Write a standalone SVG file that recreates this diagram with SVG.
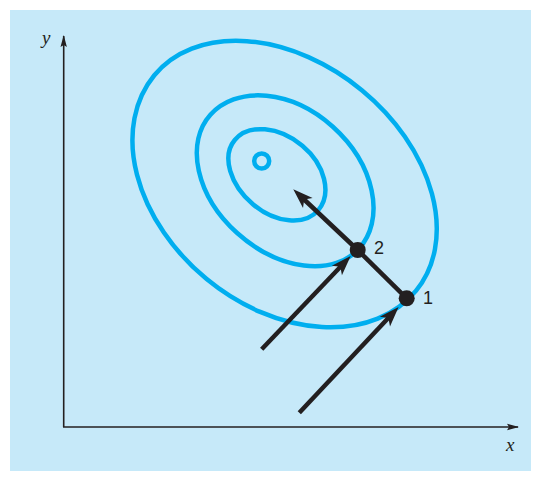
<svg xmlns="http://www.w3.org/2000/svg" width="541" height="481" viewBox="0 0 541 481">
  <style>
    .bg { fill: #c6e9f9; }
    .axis { stroke: #231f20; stroke-width: 1.6; fill: none; }
    .contour { stroke: #00aeef; stroke-width: 4.5; fill: none; }
    .step { stroke: #231f20; stroke-width: 4.5; fill: none; stroke-linecap: butt; }
    .dot { fill: #231f20; }
    .axlabel { font-family: "Liberation Serif", "Times New Roman", serif; font-style: italic; font-size: 19px; fill: #231f20; }
    .numlabel { font-family: "Liberation Sans", Arial, sans-serif; font-size: 18px; fill: #231f20; }
  </style>
  <defs>
    <marker id="axhead" markerUnits="userSpaceOnUse" viewBox="-12 -4 14 8" markerWidth="14" markerHeight="8" refX="0" refY="0" orient="auto">
      <path d="M1,0 L-11,-3.2 L-9,0 L-11,3.2 Z" fill="#231f20"/>
    </marker>
    <marker id="stephead" markerUnits="userSpaceOnUse" viewBox="-10 -8 24 16" markerWidth="24" markerHeight="16" refX="0" refY="0" orient="auto">
      <path d="M12,0 L-8,-7 L-3,0 L-8,7 Z" fill="#231f20"/>
    </marker>
  </defs>

  <rect class="bg" x="10" y="10" width="521" height="461"/>

  <g id="axes">
    <line class="axis" x1="63.7" y1="427" x2="63.7" y2="36" marker-end="url(#axhead)"/>
    <line class="axis" x1="63" y1="427" x2="518" y2="427" marker-end="url(#axhead)"/>
    <text class="axlabel" x="42" y="44">y</text>
    <text class="axlabel" x="506" y="451">x</text>
  </g>

  <g id="contours">
    <path id="contour-outer" class="contour" transform="translate(285.5 183.4) rotate(39.5)" d="M169,0 A169,124 0 0 1 0,124 A170,124 0 0 1 -170,0 A170,120.5 0 0 1 0,-120.5 A169,120.5 0 0 1 169,0 Z"/>
    <path id="contour-middle" class="contour" transform="translate(284 181) rotate(42)" d="M101,0 A101,70 0 0 1 0,70 A99,70 0 0 1 -99,0 A99,73 0 0 1 0,-73 A101,73 0 0 1 101,0 Z"/>
    <path id="contour-inner" class="contour" transform="translate(277.3 175.7) rotate(40)" d="M53.5,0 A53.5,37.5 0 0 1 0,37.5 A55.5,37.5 0 0 1 -55.5,0 A55.5,39 0 0 1 0,-39 A53.5,39 0 0 1 53.5,0 Z"/>
  </g>

  <g id="optimum">
    <circle class="contour" cx="261.7" cy="161" r="7.5"/>
  </g>

  <g id="connectors">
    <line class="step" x1="406.7" y1="298.3" x2="357.7" y2="250"/>
    <line class="step" x1="357.7" y1="250" x2="302" y2="197.5" marker-end="url(#stephead)"/>
    <line class="step" x1="261.7" y1="349.3" x2="342.4" y2="264.7" marker-end="url(#stephead)"/>
    <line class="step" x1="299.3" y1="412.7" x2="390.4" y2="315.8" marker-end="url(#stephead)"/>
  </g>

  <g id="point-1">
    <circle class="dot" cx="406.7" cy="298.3" r="8"/>
    <text class="numlabel" x="423" y="303.5">1</text>
  </g>

  <g id="point-2">
    <circle class="dot" cx="357.7" cy="250" r="8"/>
    <text class="numlabel" x="374" y="253.5">2</text>
  </g>
</svg>
